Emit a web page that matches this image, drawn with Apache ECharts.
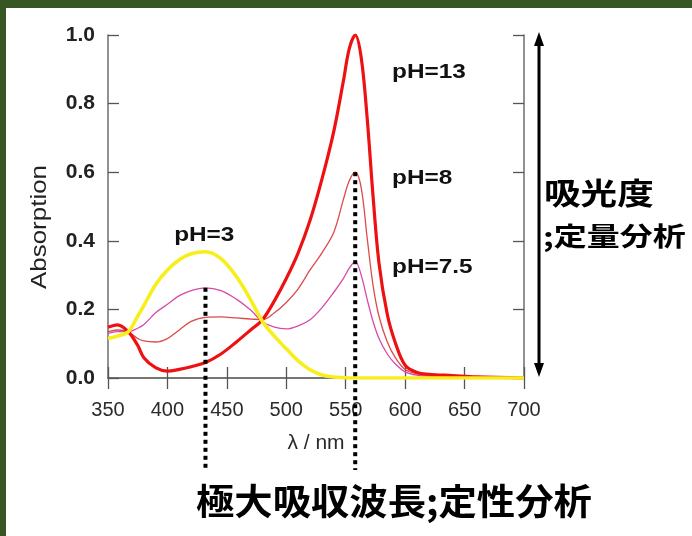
<!DOCTYPE html>
<html><head><meta charset="utf-8">
<script src="https://cdn.jsdelivr.net/npm/echarts@6/dist/echarts.min.js"></script>
<style>html,body{margin:0;padding:0;background:#fff}#c{width:692px;height:536px}</style>
</head><body><div id="c"></div>
<script>
// wavelength grid (nm)
const wavelengths = [350,358,367,375,380,390,400,410,420,432,445,458,470,480,490,500,510,520,530,540,548,553,558,563,568,573,578,585,592,600,610,620,640,660,700];
// absorbance
const absPH13 = [0.148,0.155,0.135,0.095,0.060,0.030,0.020,0.025,0.033,0.045,0.070,0.105,0.140,0.170,0.225,0.290,0.365,0.460,0.580,0.720,0.865,0.960,1.000,0.935,0.760,0.530,0.335,0.185,0.100,0.037,0.016,0.011,0.007,0.003,0.000];
const absPH8  = [0.135,0.140,0.135,0.115,0.108,0.105,0.115,0.140,0.165,0.177,0.178,0.175,0.172,0.170,0.190,0.220,0.260,0.315,0.365,0.425,0.520,0.575,0.600,0.555,0.410,0.270,0.180,0.105,0.058,0.025,0.012,0.008,0.005,0.003,0.000];
const absPH75 = [0.130,0.135,0.135,0.145,0.155,0.190,0.215,0.240,0.255,0.263,0.255,0.230,0.198,0.164,0.148,0.143,0.152,0.170,0.205,0.250,0.290,0.320,0.340,0.300,0.230,0.165,0.115,0.070,0.040,0.018,0.008,0.005,0.003,0.002,0.000];
const absPH3  = [0.115,0.122,0.135,0.180,0.210,0.272,0.315,0.345,0.362,0.368,0.348,0.296,0.228,0.165,0.122,0.085,0.050,0.024,0.009,0.003,0.001,0.000,0.000,0.000,0.000,0.000,0.000,0.000,0.000,0.000,0.000,0.000,0.000,0.000,0.000];
const xTickMin = 350, xTickMax = 700, xTickStep = 50;
const yTickMin = 0, yTickMax = 1, yTickStep = 0.2;
const seriesNames = ['pH=7.5','pH=8','pH=13','pH=3'];
// annotation anchors [wavelength, absorbance]
const labelPH13 = [589, 0.892];
const labelPH8 = [589, 0.583];
const labelPH75 = [589, 0.324];
const labelPH3 = [431, 0.417];
// maxima marked by dotted lines [wavelength, absorbance]
const maxPH75 = [432, 0.263];
const maxPH8 = [558, 0.600];

const toPairs = arr => wavelengths.map((w, i) => [w, arr[i]]);
const frame = { show: true, lineStyle: { color: '#6e6e6e', width: 1.5 } };
const tick = { show: true, inside: true, length: 11, lineStyle: { color: '#555', width: 1.3 } };
const chart = echarts.init(document.getElementById('c'));
const option = {
  backgroundColor: '#ffffff',
  animation: false,
  grid: { left: 108, right: 168, top: 35, bottom: 158 },
  xAxis: [
    { type: 'value', min: xTickMin, max: xTickMax, interval: xTickStep, position: 'bottom',
      axisLine: frame, axisTick: tick, splitLine: { show: false },
      axisLabel: { fontSize: 20, color: '#2a2a2a', fontFamily: 'Liberation Sans, Arial', margin: 22 },
      name: 'λ / nm', nameLocation: 'middle', nameGap: 55,
      nameTextStyle: { fontSize: 21, color: '#2a2a2a', fontFamily: 'Liberation Sans, Arial' } },
    { type: 'value', min: xTickMin, max: xTickMax, interval: xTickStep, position: 'top',
      axisLine: frame, axisTick: tick, splitLine: { show: false }, axisLabel: { show: false } }
  ],
  yAxis: [
    { type: 'value', min: yTickMin, max: yTickMax, interval: yTickStep, position: 'left',
      axisLine: frame, axisTick: tick, splitLine: { show: false },
      axisLabel: { fontSize: 21, fontWeight: 'bold', color: '#222', fontFamily: 'Liberation Sans, Arial', margin: 13,
        formatter: v => v.toFixed(1) } },
    { type: 'value', min: yTickMin, max: yTickMax, interval: yTickStep, position: 'right',
      axisLine: frame, axisTick: tick, splitLine: { show: false }, axisLabel: { show: false } }
  ],
  series: [
    { name: seriesNames[0], type: 'line', data: toPairs(absPH75), showSymbol: false, smooth: 0.35,
      lineStyle: { color: '#d84aa8', width: 1.3 }, z: 3 },
    { name: seriesNames[1], type: 'line', data: toPairs(absPH8), showSymbol: false, smooth: 0.35,
      lineStyle: { color: '#dd4a4a', width: 1.3 }, z: 4 },
    { name: seriesNames[2], type: 'line', data: toPairs(absPH13), showSymbol: false, smooth: 0.35,
      lineStyle: { color: '#ee1111', width: 3.2 }, z: 5 },
    { name: seriesNames[3], type: 'line', data: toPairs(absPH3), showSymbol: false, smooth: 0.35,
      lineStyle: { color: '#f7ee1c', width: 3.6 }, z: 6 }
  ]
};
chart.setOption(option);

const px = p => chart.convertToPixel({ xAxisIndex: 0, yAxisIndex: 0 }, p);
const labelFont = 'bold 21px "Liberation Sans", Arial';
const mkLabel = (text, p, align) => {
  const q = px(p);
  return { type: 'text', x: q[0], y: q[1], scaleX: 1.16, z: 20,
    style: { text, font: labelFont, fill: '#111', textAlign: align, textVerticalAlign: 'middle' } };
};
const dotted = (p) => {
  const q = px(p);
  return { type: 'line', z: 15, shape: { x1: q[0], y1: q[1], x2: q[0], y2: 470 },
    style: { stroke: '#000', lineWidth: 4, lineDash: [4, 4] } };
};
const axisBottom = px([xTickMin, yTickMin])[1];
const axisTop = px([xTickMin, yTickMax])[1];
const arrowX = 539;
const cjk = '"Noto Sans CJK JP", sans-serif';
chart.setOption({
  graphic: [
    { type: 'rect', shape: { x: 0, y: 0, width: 692, height: 8 }, style: { fill: '#375623' }, z: 30 },
    { type: 'rect', shape: { x: 0, y: 0, width: 6, height: 536 }, style: { fill: '#375623' }, z: 30 },
    { type: 'text', x: 40, y: 227, rotation: Math.PI / 2, scaleX: 1.18, z: 20,
      style: { text: 'Absorption', font: '22px "Liberation Sans", Arial', fill: '#222', textAlign: 'center', textVerticalAlign: 'middle' } },
    mkLabel('pH=13', labelPH13, 'left'),
    mkLabel('pH=8', labelPH8, 'left'),
    mkLabel('pH=7.5', labelPH75, 'left'),
    mkLabel('pH=3', labelPH3, 'center'),
    dotted(maxPH75),
    dotted(maxPH8),
    // double-headed arrow spanning the absorbance range
    { type: 'line', z: 20, shape: { x1: arrowX, y1: axisTop + 8, x2: arrowX, y2: axisBottom - 8 },
      style: { stroke: '#000', lineWidth: 3 } },
    { type: 'polygon', z: 20, shape: { points: [[arrowX, axisTop - 3], [arrowX - 5, axisTop + 11], [arrowX + 5, axisTop + 11]] }, style: { fill: '#000' } },
    { type: 'polygon', z: 20, shape: { points: [[arrowX, axisBottom - 1], [arrowX - 5, axisBottom - 15], [arrowX + 5, axisBottom - 15]] }, style: { fill: '#000' } },
    { type: 'text', x: 544, y: 193, scaleX: 1.22, z: 20,
      style: { text: '吸光度', font: 'bold 30px ' + cjk, fill: '#000', textAlign: 'left', textVerticalAlign: 'middle' } },
    { type: 'text', x: 543, y: 236, scaleX: 1.27, z: 20,
      style: { text: ';定量分析', font: 'bold 26px ' + cjk, fill: '#000', textAlign: 'left', textVerticalAlign: 'middle' } },
    { type: 'text', x: 196, y: 501, scaleX: 1.065, z: 20,
      style: { text: '極大吸収波長;定性分析', font: 'bold 36px ' + cjk, fill: '#000', textAlign: 'left', textVerticalAlign: 'middle' } }
  ]
});
</script>
</body></html>
